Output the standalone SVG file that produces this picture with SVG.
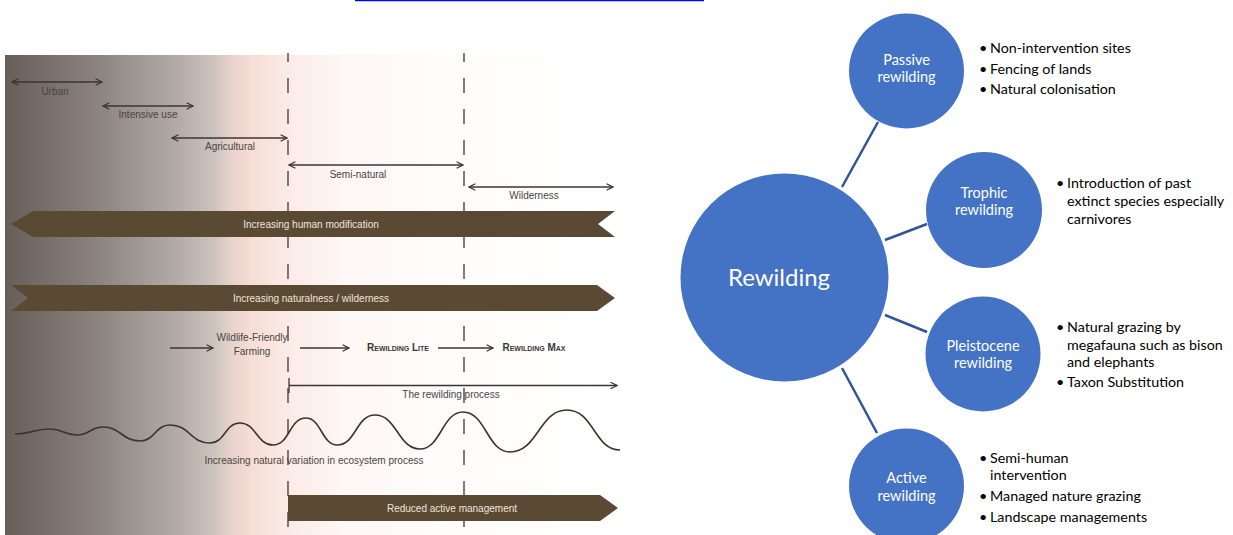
<svg xmlns="http://www.w3.org/2000/svg" width="1233" height="535" viewBox="0 0 1233 535">
<defs>
<linearGradient id="bg" x1="0" y1="0" x2="1" y2="0">
<stop offset="0" stop-color="#675e58"/>
<stop offset="0.15" stop-color="#8b837e"/>
<stop offset="0.28" stop-color="#b3aba7"/>
<stop offset="0.34" stop-color="#cdc3bf"/>
<stop offset="0.37" stop-color="#e9d3cc"/>
<stop offset="0.40" stop-color="#f6ddd5"/>
<stop offset="0.46" stop-color="#fbebe6"/>
<stop offset="0.55" stop-color="#fdf7f5"/>
<stop offset="0.75" stop-color="#fffdfc"/>
<stop offset="1" stop-color="#ffffff"/>
</linearGradient>
<marker id="ah" viewBox="0 0 10 10" refX="9" refY="5" markerWidth="8" markerHeight="8" markerUnits="userSpaceOnUse" orient="auto-start-reverse">
<path d="M1,1 L9,5 L1,9" fill="none" stroke="#3a3633" stroke-width="1.6"/>
</marker>
<style>
.lbl{font-family:"Liberation Sans",Arial,sans-serif;font-size:10px;fill:#4a4542;text-anchor:middle}
.sc{font-family:"Liberation Sans",Arial,sans-serif;font-size:10px;font-weight:bold;font-variant:small-caps;fill:#3a3633;text-anchor:middle}
.band{fill:#5a4a34}
.btxt{font-family:"Liberation Sans",Arial,sans-serif;font-size:10px;fill:#eee6dc;text-anchor:middle}
.dbl{stroke:#3a3633;stroke-width:1.3;fill:none}
.dash{stroke:#4a4542;stroke-width:1.4;stroke-dasharray:15 16;stroke-dashoffset:6;fill:none}
.circ{fill:#4472c4}
.ctxt{font-family:Lato,"Noto Sans",sans-serif;fill:#ffffff;text-anchor:middle}
.con{stroke:#2f5597;stroke-width:2.5;fill:none}
.bul{font-family:Lato,"Noto Sans",sans-serif;font-size:14.3px;fill:#000000}
</style>
</defs>
<rect width="1233" height="535" fill="#ffffff"/>
<line x1="355" y1="0.5" x2="704" y2="0.5" stroke="#0000ff" stroke-width="1.5"/>

<g id="left-panel">
<rect x="5" y="55" width="615" height="480" fill="url(#bg)"/>
<line class="dash" x1="288" y1="53" x2="288" y2="535"/>
<line class="dash" x1="464" y1="53" x2="464" y2="535"/>

<g id="urban"><line class="dbl" x1="12" y1="82" x2="102" y2="82" marker-start="url(#ah)" marker-end="url(#ah)"/><text class="lbl" x="55" y="95">Urban</text></g>
<g id="intensive"><line class="dbl" x1="103" y1="106" x2="193" y2="106" marker-start="url(#ah)" marker-end="url(#ah)"/><text class="lbl" x="148" y="118">Intensive use</text></g>
<g id="agricultural"><line class="dbl" x1="172" y1="138" x2="287" y2="138" marker-start="url(#ah)" marker-end="url(#ah)"/><text class="lbl" x="230" y="150">Agricultural</text></g>
<g id="seminatural"><line class="dbl" x1="289" y1="165" x2="463" y2="165" marker-start="url(#ah)" marker-end="url(#ah)"/><text class="lbl" x="358" y="178">Semi-natural</text></g>
<g id="wilderness"><line class="dbl" x1="469" y1="187" x2="613" y2="187" marker-start="url(#ah)" marker-end="url(#ah)"/><text class="lbl" x="534" y="199">Wilderness</text></g>

<g id="band-human"><polygon class="band" points="11,224 33,211 615,211 598,224 615,237 33,237"/><text class="btxt" x="311" y="227.5">Increasing human modification</text></g>
<g id="band-natural"><polygon class="band" points="11,285 597,285 615,298 597,311 11,311 28,298"/><text class="btxt" x="311" y="301.5">Increasing naturalness / wilderness</text></g>

<g id="wff"><line class="dbl" x1="170" y1="348" x2="213" y2="348" marker-end="url(#ah)"/><text class="lbl" x="252" y="341">Wildlife-Friendly</text><text class="lbl" x="252" y="355">Farming</text></g>
<g id="lite"><line class="dbl" x1="300" y1="348" x2="349" y2="348" marker-end="url(#ah)"/><text class="sc" x="398" y="351">Rewilding Lite</text></g>
<g id="max"><line class="dbl" x1="438" y1="348" x2="493" y2="348" marker-end="url(#ah)"/><text class="sc" x="534" y="351">Rewilding Max</text></g>

<g id="process"><line class="dbl" x1="289" y1="378" x2="289" y2="393"/><line class="dbl" x1="289" y1="385.5" x2="617" y2="385.5" marker-end="url(#ah)"/><text class="lbl" x="451" y="398">The rewilding process</text></g>

<g id="wave"><path d="M15,434 C32,434 33,429 50,429 C63,429 64,435 77,435 C90,435 90,427 103,427 C121,427 122,441 140,441 C155,441 155,425 170,425 C190,425 190,443 210,443 C225,443 225,423 240,423 C256,423 257,445 273,445 C290,445 289,418 306,418 C321,418 322,445 337,445 C356,445 356,415 375,415 C397,415 398,449 420,449 C441,449 442,412 463,412 C486,412 487,452 510,452 C538,452 539,410 567,410 C594,410 594,450 620,450" fill="none" stroke="#3a3330" stroke-width="1.6"/>
<text class="lbl" x="314" y="464">Increasing natural variation in ecosystem process</text></g>

<g id="band-reduced"><polygon class="band" points="288,495 600,495 618,508 600,521 288,521"/><text class="btxt" x="452" y="511.5">Reduced active management</text></g>
</g>

<g id="connectors">
<line class="con" x1="842" y1="187" x2="878" y2="122"/>
<line class="con" x1="885" y1="240" x2="927" y2="224"/>
<line class="con" x1="885" y1="315" x2="927" y2="332"/>
<line class="con" x1="842" y1="368" x2="877" y2="433"/>
</g>

<g id="rewilding"><circle class="circ" cx="784.5" cy="277.5" r="104"/><text class="ctxt" x="779" y="286" font-size="24">Rewilding</text></g>
<g id="passive"><circle class="circ" cx="906.5" cy="71" r="57.5"/><text class="ctxt" x="906.5" y="65" font-size="14.5">Passive</text><text class="ctxt" x="906.5" y="82" font-size="14.5">rewilding</text></g>
<g id="trophic"><circle class="circ" cx="984" cy="210" r="58"/><text class="ctxt" x="984" y="198" font-size="14.5">Trophic</text><text class="ctxt" x="984" y="215" font-size="14.5">rewilding</text></g>
<g id="pleistocene"><circle class="circ" cx="983" cy="354" r="57.5"/><text class="ctxt" x="983" y="351" font-size="14.5">Pleistocene</text><text class="ctxt" x="983" y="368" font-size="14.5">rewilding</text></g>
<g id="active"><circle class="circ" cx="906.5" cy="486" r="57.5"/><text class="ctxt" x="906.5" y="483" font-size="14.5">Active</text><text class="ctxt" x="906.5" y="501" font-size="14.5">rewilding</text></g>

<g id="passive-list">
<text class="bul" x="979" y="53">•</text><text class="bul" x="990" y="53">Non-intervention sites</text>
<text class="bul" x="979" y="74">•</text><text class="bul" x="990" y="74">Fencing of lands</text>
<text class="bul" x="979" y="94">•</text><text class="bul" x="990" y="94">Natural colonisation</text>
</g>
<g id="trophic-list">
<text class="bul" x="1056" y="188">•</text><text class="bul" x="1067" y="188">Introduction of past</text>
<text class="bul" x="1067" y="206">extinct species especially</text>
<text class="bul" x="1067" y="224">carnivores</text>
</g>
<g id="pleistocene-list">
<text class="bul" x="1056" y="332">•</text><text class="bul" x="1067" y="332">Natural grazing by</text>
<text class="bul" x="1067" y="350">megafauna such as bison</text>
<text class="bul" x="1067" y="367">and elephants</text>
<text class="bul" x="1056" y="387">•</text><text class="bul" x="1067" y="387">Taxon Substitution</text>
</g>
<g id="active-list">
<text class="bul" x="979" y="463">•</text><text class="bul" x="990" y="463">Semi-human</text>
<text class="bul" x="990" y="480">intervention</text>
<text class="bul" x="979" y="501">•</text><text class="bul" x="990" y="501">Managed nature grazing</text>
<text class="bul" x="979" y="522">•</text><text class="bul" x="990" y="522">Landscape managements</text>
</g>
</svg>
